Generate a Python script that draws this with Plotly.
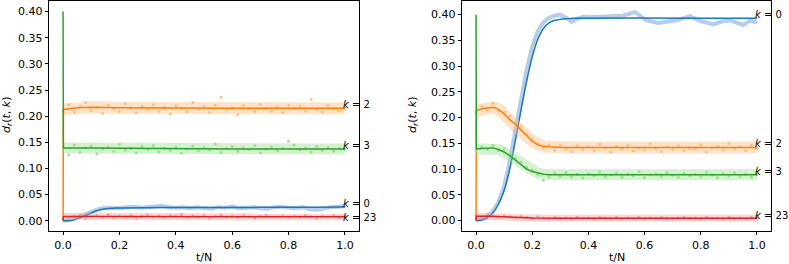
import plotly.graph_objects as go

# ---------------- data ----------------
K_LABELS = ["0", "2", "3", "23"]
DARK = ["#1f77b4", "#ff7f0e", "#2ca02c", "#d62728"]
LIGHT = ["#aec7e8", "#ffbb78", "#98df8a", "#ff9896"]

Y_TICKS = [0.00, 0.05, 0.10, 0.15, 0.20, 0.25, 0.30, 0.35, 0.40]
X_TICKS = [0.0, 0.2, 0.4, 0.6, 0.8, 1.0]

# ---- left panel : theory curves ----
L_T0 = [0, 0.02, 0.04, 0.06, 0.08, 0.10, 0.12, 0.14, 0.16, 0.18, 0.20, 0.30, 0.40, 0.50, 0.60, 0.70, 0.80, 0.90, 1.0]
L_Y0 = [0.0, 0.0, 0.002, 0.006, 0.010, 0.015, 0.019, 0.022, 0.0235, 0.024, 0.0245, 0.025, 0.0252, 0.0253, 0.0255, 0.0256, 0.0257, 0.026, 0.0263]
L_T2 = [0, 0.001, 0.05, 0.10, 0.20, 0.40, 0.60, 0.80, 1.0]
L_Y2 = [0.0, 0.213, 0.216, 0.217, 0.216, 0.215, 0.215, 0.215, 0.215]
L_T3 = [0, 0.001, 0.10, 0.30, 0.60, 1.0]
L_Y3 = [0.40, 0.139, 0.139, 0.138, 0.137, 0.137]
L_T23 = [0, 0.001, 0.20, 0.50, 1.0]
L_Y23 = [0.0, 0.008, 0.008, 0.0075, 0.0075]

# ---- left panel : simulation ----
L_S0_T = [0, 0.025, 0.05, 0.075, 0.1, 0.125, 0.15, 0.175, 0.2, 0.225, 0.25, 0.275, 0.3, 0.325, 0.35, 0.375, 0.4,
          0.425, 0.45, 0.475, 0.5, 0.525, 0.55, 0.575, 0.6, 0.625, 0.65, 0.675, 0.7, 0.725, 0.75, 0.775, 0.8,
          0.825, 0.85, 0.875, 0.9, 0.925, 0.95, 0.975, 1.0]
L_S0 = [0.000, 0.002, 0.006, 0.012, 0.018, 0.022, 0.025, 0.025, 0.024, 0.026, 0.027, 0.025, 0.026, 0.028, 0.028,
        0.026, 0.025, 0.026, 0.024, 0.026, 0.025, 0.023, 0.026, 0.025, 0.027, 0.024, 0.025, 0.026, 0.024, 0.023,
        0.026, 0.027, 0.025, 0.024, 0.026, 0.022, 0.021, 0.024, 0.026, 0.027, 0.028]
L_S2 = [0.212, 0.222, 0.208, 0.219, 0.226, 0.211, 0.217, 0.205, 0.221, 0.214,
        0.209, 0.224, 0.216, 0.207, 0.219, 0.213, 0.222, 0.210, 0.217, 0.204,
        0.220, 0.215, 0.209, 0.226, 0.213, 0.218, 0.207, 0.221, 0.236, 0.212,
        0.216, 0.203, 0.220, 0.214, 0.209, 0.223, 0.215, 0.210, 0.218, 0.207,
        0.221, 0.214, 0.219, 0.210, 0.232, 0.213, 0.208, 0.220, 0.214, 0.210, 0.217]
L_S3 = [0.140, 0.126, 0.145, 0.131, 0.139, 0.143, 0.128, 0.137, 0.141, 0.133,
        0.146, 0.135, 0.138, 0.130, 0.142, 0.136, 0.144, 0.132, 0.139, 0.135,
        0.141, 0.129, 0.137, 0.143, 0.134, 0.140, 0.136, 0.147, 0.131, 0.138,
        0.142, 0.133, 0.139, 0.136, 0.144, 0.130, 0.137, 0.141, 0.134, 0.138,
        0.152, 0.145, 0.136, 0.139, 0.131, 0.142, 0.135, 0.140, 0.133, 0.138, 0.136]
L_S23 = [0.010, 0.006, 0.009, 0.011, 0.005, 0.008, 0.010, 0.007, 0.012, 0.006,
         0.009, 0.007, 0.010, 0.005, 0.008, 0.011, 0.007, 0.009, 0.006, 0.010,
         0.008, 0.012, 0.006, 0.009, 0.007, 0.010, 0.005, 0.008, 0.011, 0.007,
         0.009, 0.006, 0.010, 0.008, 0.005, 0.009, 0.011, 0.007, 0.008, 0.010,
         0.006, 0.009, 0.007, 0.011, 0.008, 0.005, 0.009, 0.007, 0.010, 0.006, 0.008]
L_LABEL_Y = [0.026, 0.215, 0.137, -0.001]

# ---- right panel : theory curves ----
R_T0 = [0, 0.02, 0.04, 0.06, 0.08, 0.10, 0.12, 0.14, 0.16, 0.18, 0.20, 0.22, 0.24, 0.26, 0.28, 0.30, 0.32, 0.35, 1.0]
R_Y0 = [0.0, 0.001, 0.005, 0.015, 0.032, 0.058, 0.100, 0.155, 0.214, 0.270, 0.318, 0.352, 0.373, 0.384, 0.389, 0.391, 0.392, 0.393, 0.393]
R_T2 = [0, 0.001, 0.02, 0.04, 0.06, 0.08, 0.10, 0.12, 0.14, 0.16, 0.18, 0.20, 0.22, 0.24, 0.26, 0.28, 0.30, 0.35, 0.40, 0.60, 0.80, 1.0]
R_Y2 = [0.0, 0.213, 0.217, 0.219, 0.220, 0.216, 0.207, 0.196, 0.187, 0.176, 0.164, 0.154, 0.147, 0.144, 0.143, 0.142, 0.142, 0.142, 0.142, 0.142, 0.142, 0.142]
R_T3 = [0, 0.001, 0.02, 0.04, 0.06, 0.08, 0.10, 0.12, 0.14, 0.16, 0.18, 0.20, 0.22, 0.24, 0.26, 0.28, 0.30, 0.40, 0.60, 0.80, 1.0]
R_Y3 = [0.40, 0.139, 0.140, 0.141, 0.141, 0.138, 0.133, 0.126, 0.117, 0.108, 0.100, 0.095, 0.092, 0.090, 0.089, 0.089, 0.089, 0.089, 0.089, 0.089, 0.089]
R_T23 = [0, 0.001, 0.05, 0.10, 0.15, 0.20, 0.30, 0.50, 1.0]
R_Y23 = [0.0, 0.008, 0.008, 0.007, 0.006, 0.005, 0.0045, 0.0045, 0.0045]

# ---- right panel : simulation ----
R_S0_T = [0, 0.03, 0.06, 0.08, 0.10, 0.12, 0.14, 0.16, 0.18, 0.20, 0.22, 0.24, 0.26, 0.28, 0.30, 0.32, 0.34, 0.36,
          0.38, 0.40, 0.44, 0.485, 0.52, 0.566, 0.607, 0.648, 0.68, 0.714, 0.761, 0.797, 0.845, 0.87, 0.904, 0.93,
          0.951, 0.975, 1.0]
R_S0 = [0.000, 0.004, 0.018, 0.036, 0.066, 0.115, 0.175, 0.238, 0.292, 0.338, 0.368, 0.385, 0.394, 0.398, 0.400,
        0.394, 0.386, 0.392, 0.396, 0.395, 0.396, 0.397, 0.398, 0.405, 0.389, 0.384, 0.386, 0.389, 0.397, 0.388,
        0.381, 0.386, 0.389, 0.383, 0.380, 0.388, 0.385]
R_S2 = [0.211, 0.222, 0.214, 0.228, 0.212, 0.211, 0.203, 0.190, 0.183, 0.168,
        0.158, 0.150, 0.141, 0.147, 0.137, 0.146, 0.139, 0.134, 0.145, 0.138,
        0.143, 0.136, 0.148, 0.140, 0.133, 0.144, 0.139, 0.146, 0.135, 0.141,
        0.137, 0.149, 0.140, 0.134, 0.143, 0.138, 0.145, 0.136, 0.142, 0.139,
        0.147, 0.133, 0.141, 0.144, 0.137, 0.150, 0.139, 0.143, 0.136, 0.146, 0.140]
R_S3 = [0.137, 0.143, 0.138, 0.146, 0.136, 0.139, 0.128, 0.121, 0.113, 0.104,
        0.098, 0.089, 0.078, 0.084, 0.092, 0.086, 0.093, 0.085, 0.090, 0.083,
        0.091, 0.087, 0.094, 0.085, 0.089, 0.092, 0.084, 0.090, 0.087, 0.095,
        0.083, 0.089, 0.091, 0.086, 0.093, 0.088, 0.084, 0.092, 0.087, 0.090,
        0.085, 0.094, 0.088, 0.083, 0.091, 0.087, 0.093, 0.086, 0.090, 0.084, 0.089]
R_S23 = [0.010, 0.007, 0.011, 0.008, 0.006, 0.009, 0.007, 0.005, 0.008, 0.006,
         0.004, 0.007, 0.005, 0.003, 0.006, 0.004, 0.005, 0.003, 0.006, 0.004,
         0.005, 0.003, 0.006, 0.005, 0.004, 0.006, 0.003, 0.005, 0.004, 0.006,
         0.003, 0.005, 0.004, 0.006, 0.004, 0.003, 0.005, 0.006, 0.004, 0.005,
         0.003, 0.006, 0.004, 0.005, 0.003, 0.006, 0.004, 0.005, 0.004, 0.006, 0.004]
R_LABEL_Y = [0.393, 0.142, 0.089, 0.0035]

# ---------------- figure ----------------
W, H = 789, 264
FONT = "DejaVu Sans"
fig = go.Figure()


def grid(n):
    return [i / (n - 1) for i in range(n)]


def add_panel(xa, ya, theory, sims):
    (t0, y0), (t2, y2), (t3, y3), (t23, y23) = theory
    (s0t, s0), s2, s3, s23 = sims
    # k = 0
    fig.add_trace(go.Scatter(x=s0t, y=s0, mode="lines", line=dict(color=LIGHT[0], width=4),
                             opacity=0.9, xaxis=xa, yaxis=ya, showlegend=False))
    fig.add_trace(go.Scatter(x=t0, y=y0, mode="lines", line=dict(color=DARK[0], width=1.5, shape="spline"),
                             xaxis=xa, yaxis=ya, showlegend=False))
    # k = 2, 3, 23
    for idx, (tt, yy, ss, bw) in zip([1, 2, 3], [(t2, y2, s2, 12), (t3, y3, s3, 11), (t23, y23, s23, 7)]):
        fig.add_trace(go.Scatter(x=tt[1:], y=yy[1:], mode="lines", line=dict(color=LIGHT[idx], width=bw),
                                 opacity=0.4, xaxis=xa, yaxis=ya, showlegend=False))
        fig.add_trace(go.Scatter(x=grid(len(ss)), y=ss, mode="markers",
                                 marker=dict(color=LIGHT[idx], size=3, line=dict(width=0)),
                                 opacity=0.9, xaxis=xa, yaxis=ya, showlegend=False))
        fig.add_trace(go.Scatter(x=tt, y=yy, mode="lines", line=dict(color=DARK[idx], width=1.5),
                                 xaxis=xa, yaxis=ya, showlegend=False))


add_panel("x", "y",
          [(L_T0, L_Y0), (L_T2, L_Y2), (L_T3, L_Y3), (L_T23, L_Y23)],
          [(L_S0_T, L_S0), L_S2, L_S3, L_S23])
add_panel("x2", "y2",
          [(R_T0, R_Y0), (R_T2, R_Y2), (R_T3, R_Y3), (R_T23, R_Y23)],
          [(R_S0_T, R_S0), R_S2, R_S3, R_S23])

axis_common = dict(showgrid=False, zeroline=False, showline=True, mirror=True, linecolor="black",
                   linewidth=0.8, ticks="outside", ticklen=3.5, tickwidth=0.8, tickcolor="black",
                   tickfont=dict(family=FONT, size=11, color="black"))

top = 1 - 1 / H
bot = 1 - 231 / H
fig.update_layout(
    width=W, height=H, margin=dict(l=0, r=0, t=0, b=0),
    paper_bgcolor="white", plot_bgcolor="white",
    xaxis=dict(domain=[49 / W, 359 / W], range=[-0.05, 1.05], tickvals=X_TICKS, tickformat=".1f",
               anchor="y", **axis_common),
    yaxis=dict(domain=[bot, top], range=[-0.0196, 0.4203], tickvals=Y_TICKS, tickformat=".2f",
               anchor="x", **axis_common),
    xaxis2=dict(domain=[462 / W, 771 / W], range=[-0.05, 1.05], tickvals=X_TICKS, tickformat=".1f",
                anchor="y2", **axis_common),
    yaxis2=dict(domain=[bot, top], range=[-0.0205, 0.4265], tickvals=Y_TICKS, tickformat=".2f",
                anchor="x2", **axis_common),
)

ann = []
for xa, ya, ly in [("x", "y", L_LABEL_Y), ("x2", "y2", R_LABEL_Y)]:
    for k, yv in zip(K_LABELS, ly):
        ann.append(dict(x=1.0, y=yv, xref=xa, yref=ya, text="<i>k</i> = " + k, showarrow=False,
                        xanchor="left", yanchor="bottom", xshift=-4, yshift=-4,
                        font=dict(family=FONT, size=10, color="black")))
# axis titles
for cx in [(49 + 359) / 2 / W, (462 + 771) / 2 / W]:
    ann.append(dict(x=cx, y=1 - 257 / H, xref="paper", yref="paper", text="t/N", showarrow=False,
                    xanchor="center", yanchor="middle", font=dict(family=FONT, size=11, color="black")))
for cx in [7 / W, 413 / W]:
    ann.append(dict(x=cx, y=1 - 115 / H, xref="paper", yref="paper",
                    text="<i>d</i><sub><i>r</i></sub>(<i>t</i>, <i>k</i>)", showarrow=False, textangle=-90,
                    xanchor="center", yanchor="middle", font=dict(family=FONT, size=11, color="black")))
fig.update_layout(annotations=ann)

fig.write_html("out.html", config={"displayModeBar": False},
               post_script="document.body.style.margin='0';document.body.style.overflow='hidden';")
